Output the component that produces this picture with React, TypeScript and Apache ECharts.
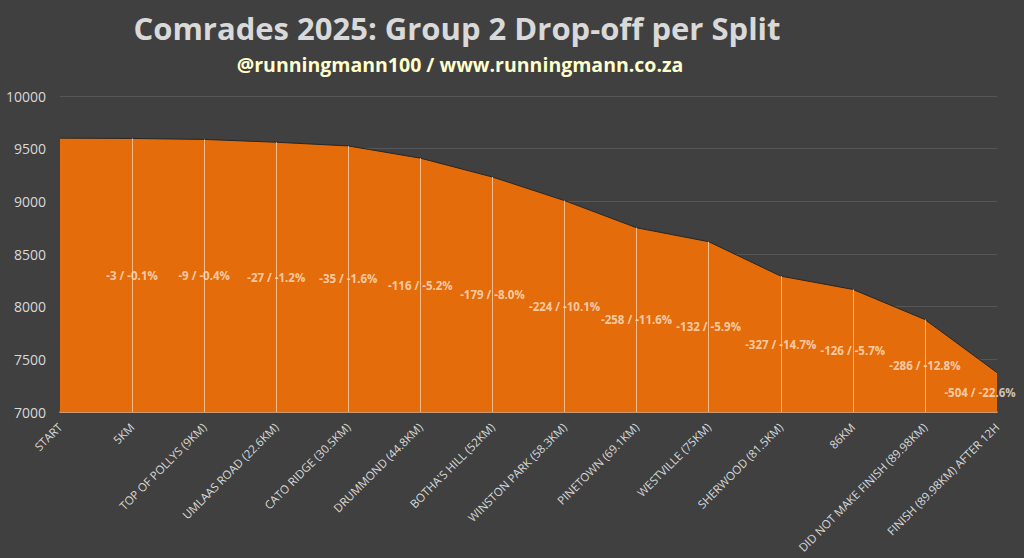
import React, { useEffect, useRef } from "react";
import * as echarts from "echarts";

const categories = [
  "START",
  "5KM",
  "TOP OF POLLYS (9KM)",
  "UMLAAS ROAD (22.6KM)",
  "CATO RIDGE (30.5KM)",
  "DRUMMOND (44.8KM)",
  "BOTHA'S HILL (52KM)",
  "WINSTON PARK (58.3KM)",
  "PINETOWN (69.1KM)",
  "WESTVILLE (75KM)",
  "SHERWOOD (81.5KM)",
  "86KM",
  "DID NOT MAKE FINISH (89.98KM)",
  "FINISH (89.98KM) AFTER 12H",
];

const runners = [9600, 9597, 9588, 9561, 9526, 9410, 9231, 9007, 8749, 8617, 8290, 8164, 7878, 7374];

const drops = ["", "-3", "-9", "-27", "-35", "-116", "-179", "-224", "-258", "-132", "-327", "-126", "-286", "-504"];
const dropPct = ["", "-0.1%", "-0.4%", "-1.2%", "-1.6%", "-5.2%", "-8.0%", "-10.1%", "-11.6%", "-5.9%", "-14.7%", "-5.7%", "-12.8%", "-22.6%"];

const yMin = 7000;
const yMax = 10000;
const yStep = 500;

export default function App() {
  const ref = useRef<HTMLDivElement>(null);
  useEffect(() => {
    if (!ref.current) return;
    document.body.style.margin = "0";
    const chart = echarts.init(ref.current, null, { renderer: "svg" });
    const labelData = runners.map((v, i) => ({
      value: [i, (v + yMin) / 2],
      label: {
        show: i > 0,
        formatter: `${drops[i]} / ${dropPct[i]}`,
        offset: i === runners.length - 1 ? [-17, 0] : [0, 0],
      },
    }));
    const dropLines = runners
      .map((v, i) => [{ coord: [i, yMin] }, { coord: [i, v] }])
      .slice(1, runners.length - 1);
    chart.setOption({
      animation: false,
      backgroundColor: "#404040",
      graphic: [
        {
          type: "text",
          style: {
            text: "Comrades 2025: Group 2 Drop-off per Split",
            x: 457,
            y: 28,
            textAlign: "center",
            textVerticalAlign: "middle",
            fill: "#d9d9d9",
            font: "bold 31px 'Open Sans', sans-serif",
          },
        },
        {
          type: "text",
          style: {
            text: "@runningmann100 / www.runningmann.co.za",
            x: 460,
            y: 64,
            textAlign: "center",
            textVerticalAlign: "middle",
            fill: "#ffffcc",
            font: "bold 19.5px 'Open Sans', sans-serif",
          },
        },
      ],
      grid: { left: 60, right: 27, top: 96, bottom: 146, containLabel: false },
      xAxis: {
        type: "category",
        data: categories,
        boundaryGap: false,
        axisLine: { show: true, lineStyle: { color: "#f4b183", width: 1.5 } },
        axisTick: { show: false },
        axisLabel: {
          rotate: 45,
          interval: 0,
          margin: 13,
          color: "#d9d9d9",
          fontSize: 11.5,
          fontFamily: "'Open Sans', sans-serif",
        },
        splitLine: { show: false },
      },
      yAxis: {
        type: "value",
        min: yMin,
        max: yMax,
        interval: yStep,
        axisLine: { show: false },
        axisTick: { show: false },
        axisLabel: {
          color: "#d9d9d9",
          fontSize: 14,
          margin: 14,
          fontFamily: "'Open Sans', sans-serif",
          formatter: (v: number) => String(v),
        },
        splitLine: { lineStyle: { color: "#565656", width: 1 } },
      },
      series: [
        {
          type: "line",
          data: runners,
          symbol: "none",
          lineStyle: { color: "#262626", width: 1 },
          areaStyle: { color: "#e46c0a", opacity: 1 },
          markLine: {
            silent: true,
            symbol: ["none", "none"],
            label: { show: false },
            lineStyle: { color: "#f8c9a0", width: 1, type: "solid", opacity: 0.85 },
            data: dropLines,
          },
          z: 2,
        },
        {
          type: "scatter",
          data: labelData,
          symbolSize: 2,
          itemStyle: { color: "rgba(0,0,0,0)" },
          label: {
            show: true,
            position: "inside",
            color: "#fbe3d0",
            fontSize: 11.5,
            fontWeight: "bold",
            fontFamily: "'Open Sans', sans-serif",
          },
          z: 5,
        },
      ],
    });
    return () => chart.dispose();
  }, []);
  return <div ref={ref} style={{ width: 1024, height: 558 }} />;
}
